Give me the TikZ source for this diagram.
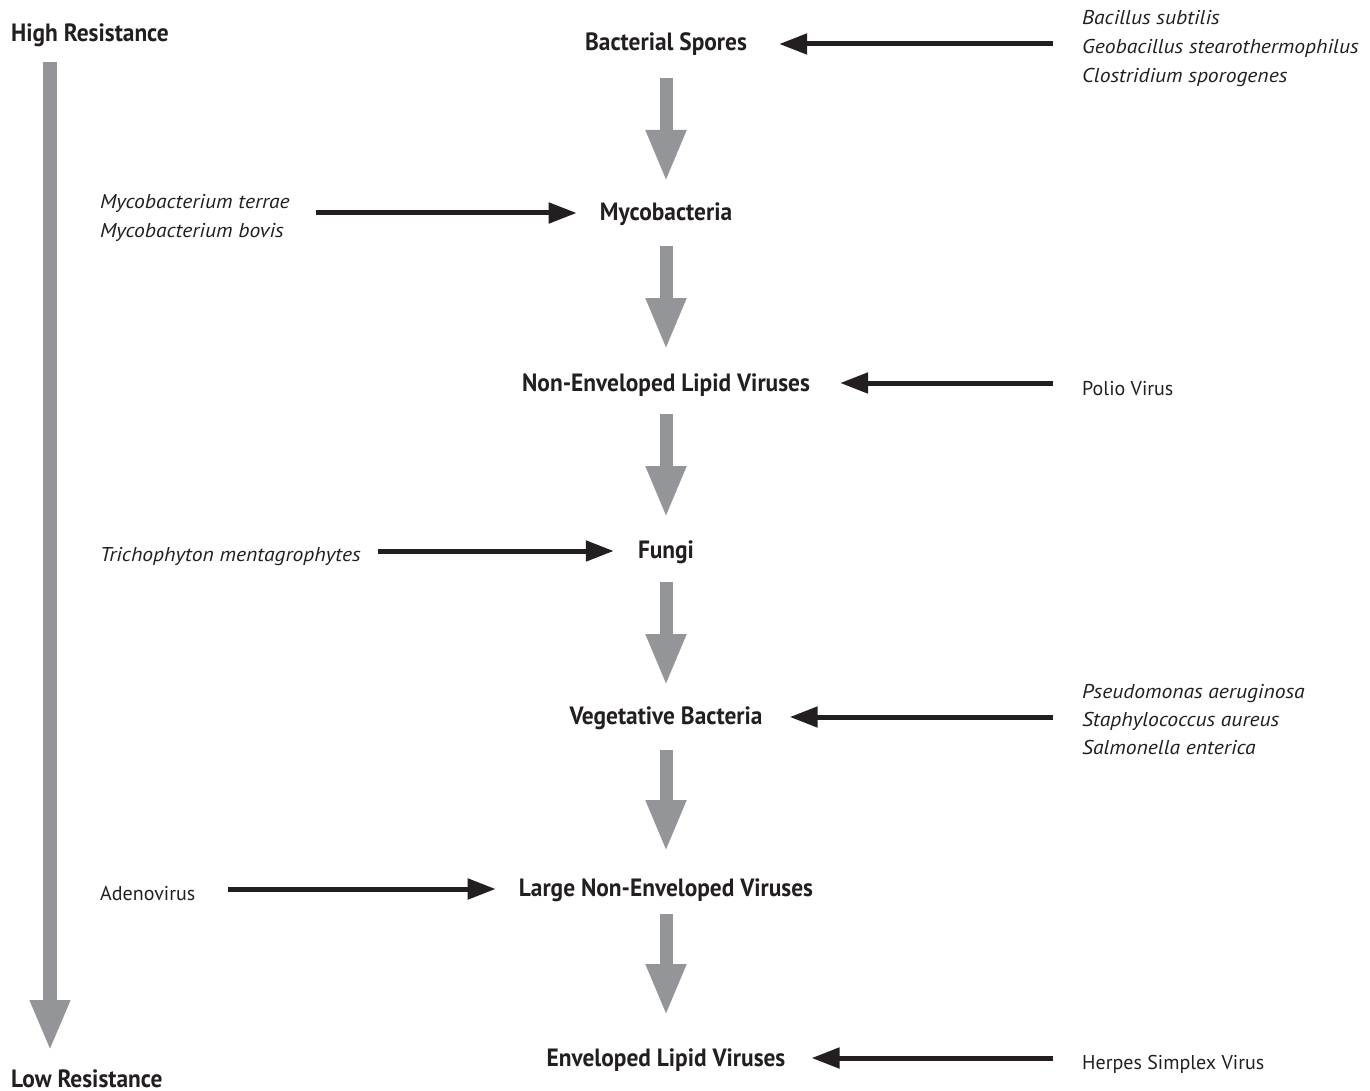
\documentclass[tikz,border=0pt]{standalone}
\usepackage{fontspec}
\setmainfont{PT Sans}
\newfontfamily\stagefont{PT Sans}[FakeStretch=0.935]
\newfontfamily\specfont{PT Sans}[FakeStretch=1.08]
\usetikzlibrary{arrows.meta,calc}
\definecolor{arrgray}{HTML}{939598}
\definecolor{ink}{HTML}{231F20}
\begin{document}
\begin{tikzpicture}[x=1pt,y=-1pt,
  stage/.style={font=\stagefont\fontsize{25}{30}\selectfont\bfseries, text=ink, inner sep=0pt, anchor=base},
  endlabel/.style={font=\stagefont\fontsize{25}{30}\selectfont\bfseries, text=ink, inner sep=0pt, anchor=base west},
  spec/.style={font=\specfont\fontsize{20}{28}\selectfont\itshape, text=ink, inner sep=0pt, anchor=base west},
  plainlbl/.style={font=\fontsize{20}{28}\selectfont, text=ink, inner sep=0pt, anchor=base west},
  blackarr/.style={draw=ink, line width=5pt, -{Triangle[length=28pt,width=20pt]}},
  grayarr/.style={draw=arrgray, line width=13pt, -{Triangle[length=52pt,width=37pt]}},
  sidearr/.style={draw=arrgray, line width=14pt, -{Triangle[length=51pt,width=37pt]}},
]
\useasboundingbox (0,0) rectangle (1370,1091);

% resistance axis
\node[endlabel] (hi) at (11,42) {High Resistance};
\node[endlabel] (lo) at (11,1087) {Low Resistance};
\coordinate (ltop) at (50,62);
\coordinate (lbot) at (50,1051);
\draw[sidearr] (ltop) -- (lbot);

% stages
\node[stage] (s1) at (666,51) {Bacterial Spores};
\node[stage] (s2) at (666,221) {Mycobacteria};
\node[stage] (s3) at (666,391) {Non-Enveloped Lipid Viruses};
\node[stage] (s4) at (666,558) {Fungi};
\node[stage] (s5) at (666,724) {Vegetative Bacteria};
\node[stage] (s6) at (666,896) {Large Non-Enveloped Viruses};
\node[stage] (s7) at (666,1066) {Enveloped Lipid Viruses};

% gray arrows between stages
\draw[grayarr] ($(s1.base)+(0,27)$) -- ($(s2.base)+(0,-39)$);
\draw[grayarr] ($(s2.base)+(0,25)$) -- ($(s3.base)+(0,-41)$);
\draw[grayarr] ($(s3.base)+(0,23)$) -- ($(s4.base)+(0,-40)$);
\draw[grayarr] ($(s4.base)+(0,24)$) -- ($(s5.base)+(0,-38)$);
\draw[grayarr] ($(s5.base)+(0,26)$) -- ($(s6.base)+(0,-44)$);
\draw[grayarr] ($(s6.base)+(0,18)$) -- ($(s7.base)+(0,-50)$);

% example organisms
\node[spec] (b1) at (1082,25) {Bacillus subtilis};
\node[spec] (b2) at (1082,54) {Geobacillus stearothermophilus};
\node[spec] (b3) at (1082,83) {Clostridium sporogenes};
\node[spec] (m1) at (100,209) {Mycobacterium terrae};
\node[spec] (m2) at (100,238) {Mycobacterium bovis};
\node[plainlbl] (pv) at (1082,395) {Polio Virus};
\node[spec] (tm) at (100,561) {Trichophyton mentagrophytes};
\node[spec] (v1) at (1082,698) {Pseudomonas aeruginosa};
\node[spec] (v2) at (1082,726) {Staphylococcus aureus};
\node[spec] (v3) at (1082,754) {Salmonella enterica};
\node[plainlbl] (ad) at (100,900) {Adenovirus};
\node[plainlbl] (hs) at (1082,1069) {Herpes Simplex Virus};

% black arrows
\coordinate (t1) at (1053,44);
\coordinate (t2) at (316,213);
\coordinate (t3) at (1053,383);
\coordinate (t4) at (378,551);
\coordinate (t5) at (1053,717);
\coordinate (t6) at (228,889);
\coordinate (t7) at (1053,1058);
\draw[blackarr] (t1) -- ($(t1 -| s1.east)+(32,0)$);
\draw[blackarr] (t2) -- ($(t2 -| s2.west)+(-23,0)$);
\draw[blackarr] (t3) -- ($(t3 -| s3.east)+(30,0)$);
\draw[blackarr] (t4) -- ($(t4 -| s4.west)+(-24,0)$);
\draw[blackarr] (t5) -- ($(t5 -| s5.east)+(27,0)$);
\draw[blackarr] (t6) -- ($(t6 -| s6.west)+(-23,0)$);
\draw[blackarr] (t7) -- ($(t7 -| s7.east)+(26,0)$);
\end{tikzpicture}
\end{document}
